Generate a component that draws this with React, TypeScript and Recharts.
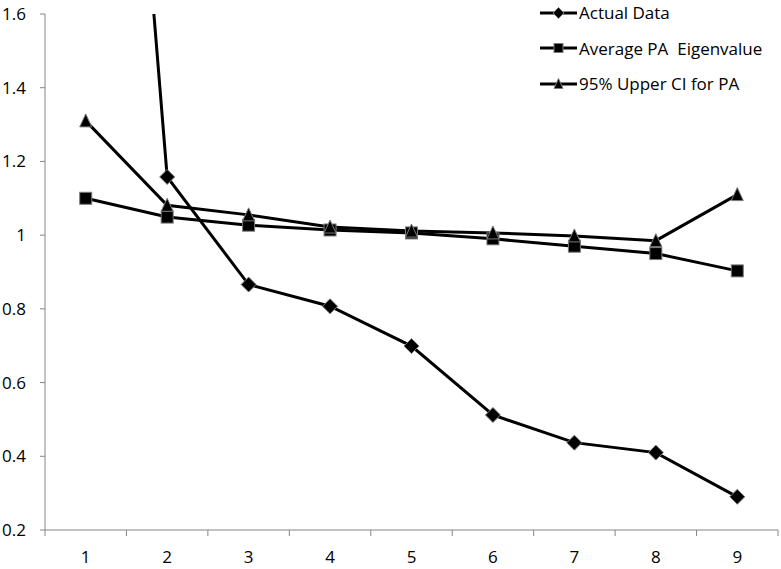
import { LineChart, Line, XAxis, YAxis } from 'recharts';

// x categories (component number)
const categories = [1, 2, 3, 4, 5, 6, 7, 8, 9];

// series values
const actualData = [3.87, 1.158, 0.866, 0.807, 0.699, 0.512, 0.437, 0.41, 0.29];
const averagePA = [1.1, 1.049, 1.027, 1.014, 1.006, 0.99, 0.97, 0.95, 0.903];
const upperCI = [1.31, 1.081, 1.055, 1.022, 1.011, 1.006, 0.998, 0.985, 1.11];

const yTicks = [0.2, 0.4, 0.6, 0.8, 1, 1.2, 1.4, 1.6];
// labels sit on the categories, tick marks sit between them (Excel style)
const xTicks = [0.5, 1, 1.5, 2, 2.5, 3, 3.5, 4, 4.5, 5, 5.5, 6, 6.5, 7, 7.5, 8, 8.5, 9, 9.5];

const data = categories.map((c, i) => ({
    x: c,
    actual: actualData[i],
    average: averagePA[i],
    upper: upperCI[i],
}));

const FONT = '"Open Sans", "Noto Sans", sans-serif';
const AXIS_GRAY = '#868686';
const MARK_EDGE = '#7a7a7a';

// marker shapes
const Diamond = ({ cx, cy, r = 7.5 }: any) => (
    <path
        d={`M${cx},${cy - r} L${cx + r},${cy} L${cx},${cy + r} L${cx - r},${cy} Z`}
        fill="#000"
        stroke={MARK_EDGE}
        strokeWidth={1}
    />
);

const Square = ({ cx, cy, s = 12 }: any) => (
    <rect x={cx - s / 2} y={cy - s / 2} width={s} height={s} fill="#000" stroke={MARK_EDGE} strokeWidth={1} />
);

const Triangle = ({ cx, cy, s = 12 }: any) => (
    <path
        d={`M${cx},${cy - s / 2 - 1} L${cx + s / 2},${cy + s / 2} L${cx - s / 2},${cy + s / 2} Z`}
        fill="#000"
        stroke={MARK_EDGE}
        strokeWidth={1}
    />
);

const renderDot = (Shape: any) => (props: any) => {
    const { cx, cy, index } = props;
    if (cx == null || cy == null) return <g key={`d-${index}`} />;
    return (
        <g key={`d-${index}`}>
            <Shape cx={cx} cy={cy} />
        </g>
    );
};

const XTick = ({ x, y, payload }: any) => {
    const v = payload.value;
    if (!Number.isInteger(v)) {
        return <line x1={x} y1={y} x2={x} y2={y + 6} stroke={AXIS_GRAY} strokeWidth={1} />;
    }
    return (
        <text x={x} y={y + 33} textAnchor="middle" fill="#000" fontSize={17} fontFamily={FONT}>
            {v}
        </text>
    );
};

const legendItems = [
    { label: 'Actual Data', Shape: Diamond, size: { r: 5.5 } },
    { label: 'Average PA  Eigenvalue', Shape: Square, size: { s: 9 } },
    { label: '95% Upper CI for PA', Shape: Triangle, size: { s: 9 } },
];

// legend sits over the plot, top right, like the Excel original
const ChartLegend = () => (
    <div style={{ position: 'absolute', left: 540, top: -5, fontFamily: FONT, fontSize: 17, color: '#000' }}>
        {legendItems.map(({ label, Shape, size }) => (
            <div key={label} style={{ display: 'flex', alignItems: 'center', height: 35.5 }}>
                <svg width={39} height={20} style={{ display: 'block' }}>
                    <line x1={0} y1={10} x2={37} y2={10} stroke="#000" strokeWidth={3} />
                    <Shape cx={18.5} cy={10} {...size} />
                </svg>
                <span style={{ whiteSpace: 'pre' }}>{label}</span>
            </div>
        ))}
    </div>
);

export default function App() {
    return (
        <div style={{ position: 'absolute', left: 0, top: 0, width: 781, height: 569, background: '#fff' }}>
            <LineChart width={781} height={569} data={data} margin={{ top: 14, right: 3, left: 0, bottom: 0 }}>
                <XAxis
                    dataKey="x"
                    type="number"
                    domain={[0.5, 9.5]}
                    ticks={xTicks}
                    interval={0}
                    tickLine={false}
                    tickSize={0}
                    tickMargin={0}
                    axisLine={{ stroke: AXIS_GRAY }}
                    tick={<XTick />}
                    height={39}
                />
                <YAxis
                    domain={[0.2, 1.6]}
                    ticks={yTicks}
                    allowDataOverflow
                    width={45}
                    tickSize={5}
                    tickMargin={14}
                    tickLine={{ stroke: AXIS_GRAY }}
                    axisLine={{ stroke: AXIS_GRAY }}
                    tick={{ fill: '#000', fontSize: 17, fontFamily: FONT }}
                    tickFormatter={(v: number) => String(Number(v.toFixed(1)))}
                />
                <Line
                    dataKey="actual"
                    name="Actual Data"
                    stroke="#000"
                    strokeWidth={3}
                    dot={renderDot(Diamond)}
                    isAnimationActive={false}
                />
                <Line
                    dataKey="average"
                    name="Average PA  Eigenvalue"
                    stroke="#000"
                    strokeWidth={3}
                    dot={renderDot(Square)}
                    isAnimationActive={false}
                />
                <Line
                    dataKey="upper"
                    name="95% Upper CI for PA"
                    stroke="#000"
                    strokeWidth={3}
                    dot={renderDot(Triangle)}
                    isAnimationActive={false}
                />
            </LineChart>
            <ChartLegend />
        </div>
    );
}
